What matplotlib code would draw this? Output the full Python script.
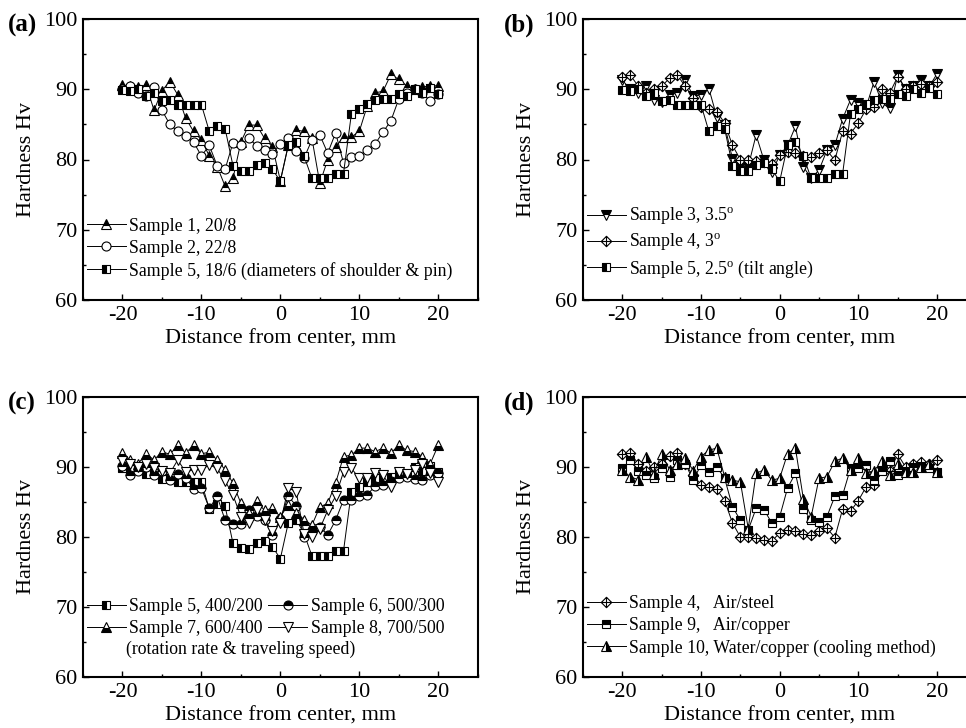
#%% Hardness profiles across the weld for the four parameter groups

import matplotlib
matplotlib.use('Agg')
import matplotlib.pyplot as plt
from matplotlib.path import Path
from matplotlib.ticker import MultipleLocator

plt.rcParams['font.family'] = 'Liberation Serif'
plt.rcParams['mathtext.fontset'] = 'custom'
plt.rcParams['mathtext.rm'] = 'Liberation Serif'
plt.rcParams['axes.unicode_minus'] = False

#%% Data (distance from center in mm, hardness in Hv)

dist = [-20, -19, -18, -17, -16, -15, -14, -13, -12, -11, -10, -9, -8, -7, -6, -5, -4, -3, -2, -1,
        0, 1, 2, 3, 4, 5, 6, 7, 8, 9, 10, 11, 12, 13, 14, 15, 16, 17, 18, 19, 20]

sample1 = [90.6, 90.5, 90.3, 90.6, 87.0, 89.8, 91.1, 89.2, 85.9, 84.0, 82.8, 80.5, 79.0, 76.2, 77.3, 82.5, 84.9, 84.9, 83.0, 81.8,
           77.0, 82.0, 84.2, 84.0, 83.0, 76.6, 80.0, 81.8, 83.2, 83.2, 84.0, 87.6, 89.5, 89.7, 92.1, 91.4, 90.5, 90.0, 90.3, 90.5, 90.5]
sample2 = [90.0, 90.4, 89.5, 89.0, 90.3, 87.0, 85.0, 84.0, 83.3, 82.5, 80.5, 82.0, 79.1, 78.6, 82.4, 82.0, 83.1, 81.9, 81.4, 80.8,
           82.2, 83.1, 81.2, 80.2, 82.8, 83.5, 80.9, 83.8, 79.5, 80.3, 80.5, 81.4, 82.2, 83.9, 85.5, 88.6, 89.5, 90.0, 89.5, 88.3, 89.3]
sample3 = [91.3, 90.0, 89.5, 90.5, 88.5, 88.2, 89.2, 89.5, 91.3, 89.0, 89.2, 90.1, 86.1, 84.9, 80.1, 79.0, 79.0, 83.5, 79.9, 78.2,
           80.6, 82.0, 84.7, 79.0, 77.3, 78.5, 81.3, 82.0, 85.8, 88.5, 88.0, 87.5, 91.1, 88.0, 87.3, 92.0, 90.0, 90.4, 91.3, 90.4, 92.2]
sample4 = [91.8, 92.0, 90.5, 89.5, 90.0, 90.4, 91.6, 92.0, 90.4, 88.8, 87.5, 87.2, 86.8, 85.2, 82.0, 80.0, 80.0, 79.8, 79.6, 79.4,
           80.6, 81.0, 80.9, 80.5, 80.3, 80.9, 81.3, 79.9, 84.0, 83.7, 85.2, 87.2, 87.5, 90.0, 89.5, 91.8, 90.0, 90.5, 90.7, 90.5, 91.0]
sample5 = [89.9, 89.7, 90.0, 89.0, 89.5, 88.3, 88.5, 87.8, 87.8, 87.8, 87.8, 84.0, 84.7, 84.4, 79.1, 78.4, 78.3, 79.2, 79.5, 78.6,
           76.9, 82.0, 82.5, 80.5, 77.3, 77.3, 77.3, 78.0, 78.0, 86.5, 87.2, 87.9, 88.4, 88.6, 88.6, 89.3, 89.0, 90.0, 89.5, 90.2, 89.3]
sample6 = [90.1, 88.9, 89.5, 90.0, 88.9, 89.5, 88.2, 89.0, 88.5, 86.9, 87.0, 84.1, 85.8, 82.4, 81.9, 81.8, 83.9, 83.0, 82.4, 80.3,
           82.6, 85.8, 84.5, 80.0, 80.8, 81.5, 80.3, 82.4, 85.3, 85.3, 85.8, 86.0, 87.3, 87.5, 88.0, 88.4, 88.6, 88.3, 88.2, 88.8, 89.1]
sample7 = [92.0, 91.0, 90.5, 91.9, 91.0, 92.2, 91.8, 93.1, 92.0, 93.1, 91.9, 92.1, 91.0, 89.6, 87.7, 84.8, 83.5, 85.1, 83.8, 84.1,
           82.9, 84.6, 83.5, 82.5, 81.7, 84.3, 84.8, 87.7, 91.5, 91.7, 92.7, 92.7, 92.2, 92.7, 92.0, 93.1, 92.4, 92.2, 91.5, 90.5, 93.1]
sample8 = [90.8, 90.4, 90.0, 90.5, 89.8, 89.5, 89.1, 91.0, 89.3, 89.6, 89.6, 90.3, 89.8, 88.0, 86.0, 82.9, 82.0, 83.9, 82.4, 80.8,
           82.0, 87.0, 86.5, 80.5, 80.0, 81.2, 83.8, 85.8, 89.3, 89.8, 88.4, 88.5, 89.1, 88.8, 87.2, 89.3, 89.0, 89.6, 90.5, 89.1, 87.9]
sample9 = [89.8, 91.0, 89.5, 88.8, 88.4, 89.8, 88.6, 91.0, 90.5, 88.1, 90.3, 89.3, 90.0, 88.4, 84.3, 82.4, 81.0, 84.1, 83.9, 82.0,
           82.9, 87.0, 89.1, 84.0, 82.4, 82.2, 82.9, 85.8, 86.0, 89.8, 89.8, 90.3, 88.2, 89.5, 90.8, 88.9, 89.3, 90.0, 90.0, 89.8, 89.3]
sample10 = [89.6, 88.6, 88.2, 91.5, 89.0, 91.9, 89.6, 90.5, 91.3, 89.5, 91.5, 92.4, 92.7, 88.6, 88.1, 87.9, 81.2, 89.1, 89.6, 88.1,
            88.4, 91.9, 92.7, 85.5, 82.9, 88.4, 88.6, 90.8, 91.3, 89.6, 91.3, 89.1, 89.5, 90.8, 88.9, 90.5, 89.3, 89.3, 90.0, 90.5, 89.3]

#%% Marker: open diamond with a cross inside

diamond_cross = Path(
    [(0, 1), (1, 0), (0, -1), (-1, 0), (0, 1), (0, 1), (0, -1), (-1, 0), (1, 0)],
    [Path.MOVETO, Path.LINETO, Path.LINETO, Path.LINETO, Path.CLOSEPOLY,
     Path.MOVETO, Path.LINETO, Path.MOVETO, Path.LINETO])


def draw_series(ax, y, marker, fill, label, ms=7):
    """Plot one hardness profile; fill is a matplotlib fillstyle or 'none' for an open marker."""
    if fill == 'none':
        line, = ax.plot(dist, y, color='black', lw=0.7, marker=marker, ms=ms, mec='black', mew=0.8,
                        mfc='white', label=label)
    else:
        line, = ax.plot(dist, y, color='black', lw=0.7, marker=marker, ms=ms, mec='black', mew=0.8,
                        mfc='black', mfcalt='white', fillstyle=fill, label=label)
    return line


def setup_axes(ax):
    ax.set_xlim(-25, 25)
    ax.set_ylim(60, 100)
    ax.xaxis.set_major_locator(MultipleLocator(10))
    ax.xaxis.set_minor_locator(MultipleLocator(5))
    ax.yaxis.set_major_locator(MultipleLocator(10))
    ax.yaxis.set_minor_locator(MultipleLocator(5))
    ax.tick_params(which='both', direction='in', top=False, right=False, width=1.0, labelsize=16)
    ax.tick_params(which='major', length=4, pad=4)
    ax.tick_params(which='minor', length=2.5)
    for sp in ax.spines.values():
        sp.set_linewidth(1.5)
    ax.set_xlabel('Distance from center, mm', fontsize=16, labelpad=3.5)
    ax.set_ylabel('Hardness Hv', fontsize=16, labelpad=6)


#%% Figure layout (positions in pixels of a 966 x 728 canvas)

W, H = 966, 728
fig = plt.figure(figsize=(W / 100, H / 100), dpi=100)


def add_axes_px(left, top, right, bottom):
    return fig.add_axes([left / W, 1 - bottom / H, (right - left) / W, (bottom - top) / H])


ax_a = add_axes_px(83, 19, 477.7, 300)
ax_b = add_axes_px(583, 19, 976.4, 300)
ax_c = add_axes_px(83, 397, 477.7, 677)
ax_d = add_axes_px(583, 397, 976.4, 677)

leg_kw = dict(loc='lower left', frameon=False, fontsize=12.8, handlelength=2.2,
              handletextpad=0.2, borderaxespad=0.1, borderpad=0.1, labelspacing=0.28)

# (a) tool diameters
draw_series(ax_a, sample1, '^', 'top', 'Sample 1, 20/8', ms=7.5)
draw_series(ax_a, sample2, 'o', 'none', 'Sample 2, 22/8', ms=6.5)
draw_series(ax_a, sample5, 's', 'left', 'Sample 5, 18/6 (diameters of shoulder & pin)', ms=6)
ax_a.legend(bbox_to_anchor=(0, 0.06), **leg_kw)

# (b) tilt angle
draw_series(ax_b, sample3, 'v', 'top', 'Sample 3, 3.5$^{\\rm o}$', ms=7.5)
draw_series(ax_b, sample4, diamond_cross, 'none', 'Sample 4, 3$^{\\rm o}$', ms=7.5)
draw_series(ax_b, sample5, 's', 'left', 'Sample 5, 2.5$^{\\rm o}$ (tilt angle)', ms=6)
ax_b.legend(bbox_to_anchor=(0, 0.06), **leg_kw)

# (c) rotation rate / traveling speed; legend filled row by row
h5 = draw_series(ax_c, sample5, 's', 'left', 'Sample 5, 400/200', ms=6)
h6 = draw_series(ax_c, sample6, 'o', 'top', 'Sample 6, 500/300', ms=6.5)
h7 = draw_series(ax_c, sample7, '^', 'bottom', 'Sample 7, 600/400', ms=7.5)
h8 = draw_series(ax_c, sample8, 'v', 'none', 'Sample 8, 700/500', ms=7.5)
leg_c = dict(leg_kw, ncol=2, columnspacing=0.3)
ax_c.legend(handles=[h5, h7, h6, h8], bbox_to_anchor=(0, 0.13), **leg_c)
ax_c.text(0.11, 0.1, '(rotation rate & traveling speed)', transform=ax_c.transAxes,
          fontsize=12.8, va='center', ha='left')

# (d) cooling method
draw_series(ax_d, sample4, diamond_cross, 'none', 'Sample 4,   Air/steel', ms=7.5)
draw_series(ax_d, sample9, 's', 'top', 'Sample 9,   Air/copper', ms=6)
draw_series(ax_d, sample10, '^', 'right', 'Sample 10, Water/copper (cooling method)', ms=7.5)
ax_d.legend(bbox_to_anchor=(0, 0.06), **leg_kw)

for ax in (ax_a, ax_b, ax_c, ax_d):
    setup_axes(ax)

for x_px, y_px, tag in [(8, 25, '(a)'), (504, 25, '(b)'), (8, 403, '(c)'), (504, 403, '(d)')]:
    fig.text(x_px / W, 1 - y_px / H, tag, fontsize=18, fontweight='bold', va='center', ha='left')

fig.savefig('out.png', dpi=100)
